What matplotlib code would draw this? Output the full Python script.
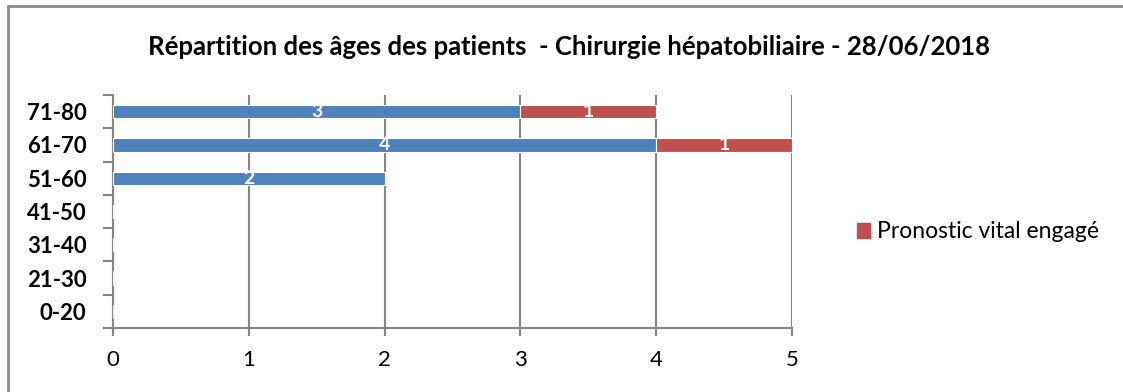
import matplotlib.pyplot as plt
import numpy as np
from matplotlib.lines import Line2D
from matplotlib.patches import Patch

plt.rcParams['font.family'] = ['Lato', 'DejaVu Sans']

AGE_GROUPS = ['0-20', '21-30', '31-40', '41-50', '51-60', '61-70', '71-80']
PATIENTS = [0, 0, 0, 0, 2, 4, 3]
VITAL_RISK = [0, 0, 0, 0, 0, 1, 1]
TITLE = 'Répartition des âges des patients  - Chirurgie hépatobiliaire - 28/06/2018'
LEGEND_LABEL = 'Pronostic vital engagé'

BLUE = '#4F81BD'
RED = '#C0504D'
GRID = '#868686'

fig = plt.figure(figsize=(11.23, 3.92), dpi=100)

# outer chart frame (only left and top edges visible)
fig.add_artist(Line2D([7.5 / 1123, 7.5 / 1123], [0, 1 - 5 / 392], transform=fig.transFigure,
                      color='#8c8c8c', lw=2, solid_capstyle='butt'))
fig.add_artist(Line2D([7 / 1123, 1.01], [1 - 5.5 / 392, 1 - 5.5 / 392], transform=fig.transFigure,
                      color='#8c8c8c', lw=2, solid_capstyle='butt'))

ax = fig.add_axes([113 / 1123, 1 - 328 / 392, (792 - 113) / 1123, (328 - 95) / 392])

y = np.arange(len(AGE_GROUPS))
patients = np.array(PATIENTS)
risk = np.array(VITAL_RISK)
bars_a = ax.barh(y, patients, height=0.4, color=BLUE, edgecolor='white', linewidth=0.8, zorder=3)
bars_b = ax.barh(y, risk, left=patients, height=0.4, color=RED, edgecolor='white', linewidth=0.8,
                 zorder=3)

for bars, vals in ((bars_a, patients), (bars_b, risk)):
    for b, v in zip(bars, vals):
        if v:
            ax.text(b.get_x() + b.get_width() / 2, b.get_y() + b.get_height() / 2, str(v),
                    ha='center', va='center', color='white', fontsize=14, fontweight='bold',
                    zorder=4)

ax.set_xlim(0, 5)
ax.set_ylim(-0.5, len(AGE_GROUPS) - 0.5)
ax.set_xticks(range(6))
ax.xaxis.grid(True, color=GRID, lw=1.5, zorder=0)
ax.tick_params(axis='x', length=6, width=1.5, color=GRID, labelsize=16, pad=10)

ax.set_yticks(y)
ax.set_yticklabels(AGE_GROUPS, fontsize=16, fontweight='bold')
ax.set_yticks(np.arange(-0.5, len(AGE_GROUPS)), minor=True)
ax.tick_params(axis='y', which='major', length=0, pad=19)
ax.tick_params(axis='y', which='minor', length=7, width=1.5, color=GRID)

for side in ('top', 'right'):
    ax.spines[side].set_visible(False)
for side in ('left', 'bottom'):
    ax.spines[side].set_color(GRID)
    ax.spines[side].set_linewidth(1.5)

fig.text(569 / 1123, 1 - 47 / 392, TITLE, ha='center', va='center', fontsize=18.5, fontweight='bold')

fig.legend(handles=[Patch(color=RED)], labels=[LEGEND_LABEL], loc='center left',
           bbox_to_anchor=(836 / 1123, 1 - 232 / 392), frameon=False, fontsize=16.5,
           handlelength=0.6, handleheight=0.6, handletextpad=0.3)

fig.savefig('out.png', dpi=100)
